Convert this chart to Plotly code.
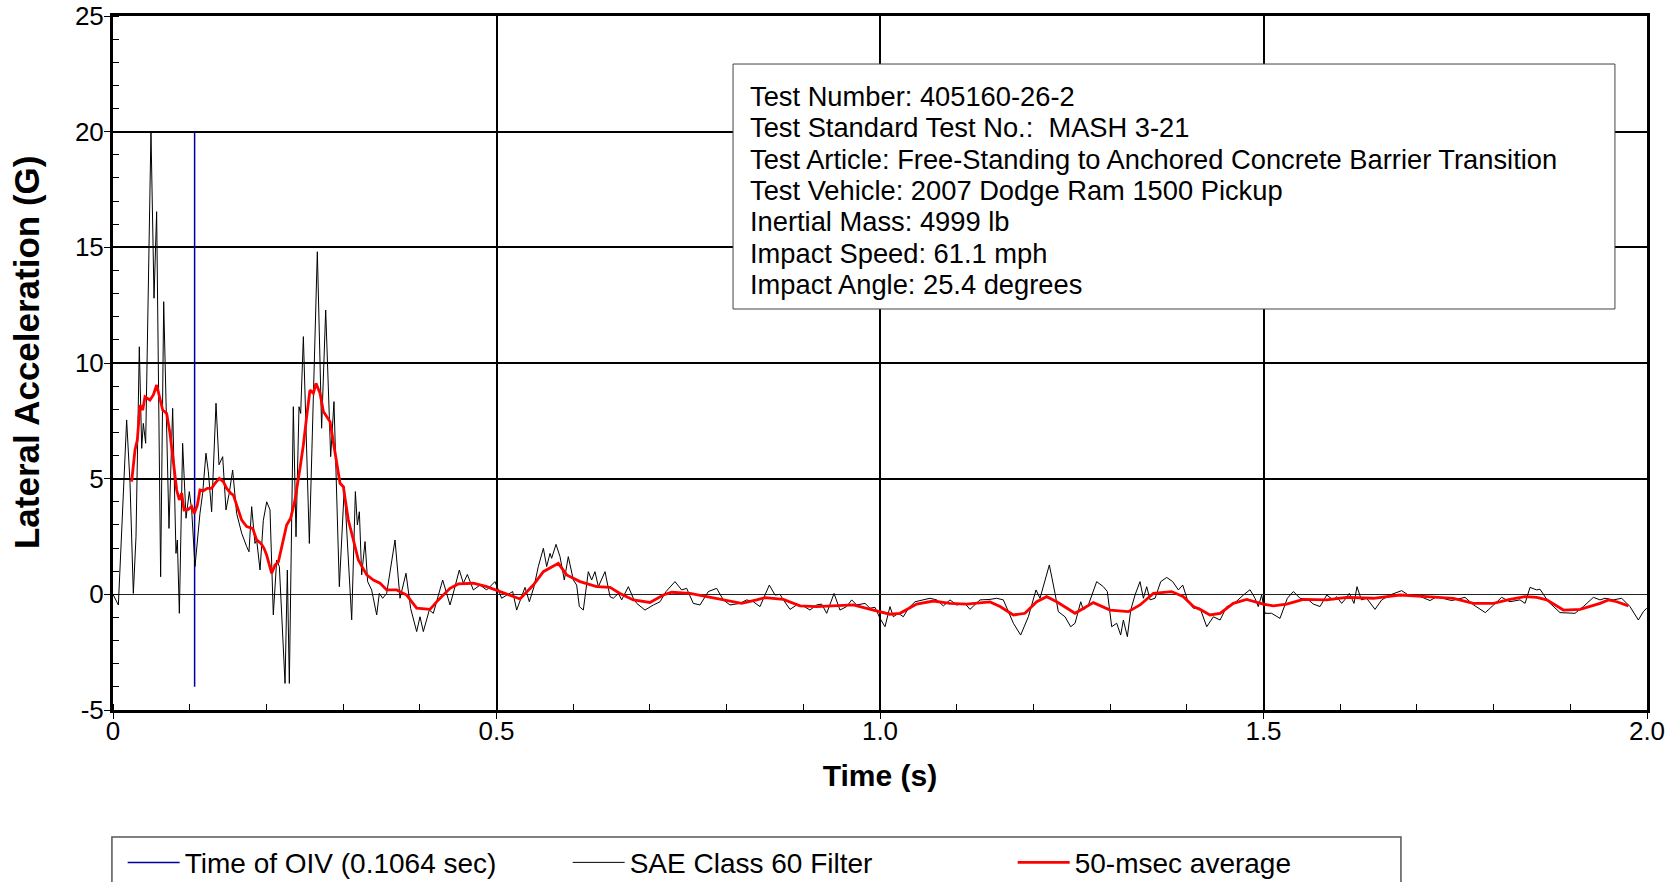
import plotly.graph_objects as go

# SAE Class 60 filtered lateral acceleration
sae_time = [
    0.000, 0.007, 0.0178, 0.0222, 0.0265, 0.0300, 0.0343, 0.0374, 0.0395, 0.0426,
    0.0495, 0.0535, 0.0569, 0.0621, 0.0661, 0.0730, 0.0778, 0.0821, 0.0839, 0.0865,
    0.0908, 0.0952, 0.0995, 0.1026, 0.1069, 0.1134, 0.1169, 0.1212, 0.1243, 0.1286,
    0.1343, 0.1382, 0.1430, 0.1473, 0.1517, 0.1560, 0.1612, 0.1678, 0.1743, 0.1773,
    0.1808, 0.1851, 0.1873, 0.1917, 0.1960, 0.2004, 0.2047, 0.2090, 0.2134, 0.2169,
    0.2243, 0.2273, 0.2299, 0.2351, 0.2386, 0.2425, 0.2447, 0.2482, 0.2560, 0.2664,
    0.2720, 0.2773, 0.2838, 0.2881, 0.2951, 0.3016, 0.3112, 0.3160, 0.3186, 0.3212,
    0.3242, 0.3286, 0.3320, 0.3372, 0.3438, 0.3472, 0.3516, 0.3568, 0.3677, 0.3742,
    0.3820, 0.3881, 0.3959, 0.4003, 0.4046, 0.4124, 0.4176, 0.4298, 0.4350, 0.4394,
    0.4459, 0.4515, 0.4568, 0.4620, 0.4698, 0.4785, 0.4872, 0.4980, 0.5067, 0.5133,
    0.5211, 0.5263, 0.5372, 0.5428, 0.5489, 0.5545, 0.5611, 0.5654, 0.5698, 0.5719,
    0.5776, 0.5828, 0.5884, 0.5936, 0.6002, 0.6045, 0.6080, 0.6132, 0.6197, 0.6241,
    0.6284, 0.6328, 0.6415, 0.6480, 0.6523, 0.6589, 0.6632, 0.6719, 0.6784, 0.6828,
    0.6936, 0.7045, 0.7132, 0.7210, 0.7327, 0.7414, 0.7479, 0.7566, 0.7653, 0.7762,
    0.7870, 0.7957, 0.8044, 0.8175, 0.8262, 0.8348, 0.8435, 0.8557, 0.8631, 0.8696,
    0.8740, 0.8827, 0.8913, 0.9000, 0.9087, 0.9174, 0.9239, 0.9305, 0.9401, 0.9478,
    0.9565, 0.9631, 0.9696, 0.9805, 0.9870, 0.9935, 1.0000, 1.0065, 1.0130, 1.0174,
    1.0239, 1.0304, 1.0370, 1.0457, 1.0565, 1.0652, 1.0739, 1.0826, 1.0913, 1.1000,
    1.1108, 1.1173, 1.1304, 1.1434, 1.1521, 1.1608, 1.1739, 1.1834, 1.1934, 1.2034,
    1.2086, 1.2208, 1.2282, 1.2325, 1.2412, 1.2486, 1.2543, 1.2617, 1.2652, 1.2717,
    1.2825, 1.2912, 1.2964, 1.3021, 1.3086, 1.3138, 1.3173, 1.3225, 1.3269, 1.3325,
    1.3390, 1.3434, 1.3477, 1.3521, 1.3586, 1.3660, 1.3738, 1.3816, 1.3890, 1.3947,
    1.4008, 1.4086, 1.4173, 1.4260, 1.4347, 1.4434, 1.4521, 1.4608, 1.4738, 1.4824,
    1.4889, 1.4932, 1.4976, 1.5020, 1.5106, 1.5215, 1.5311, 1.5390, 1.5476, 1.5585,
    1.5650, 1.5737, 1.5824, 1.5911, 1.5954, 1.6019, 1.6076, 1.6119, 1.6180, 1.6219,
    1.6276, 1.6345, 1.6454, 1.6541, 1.6649, 1.6801, 1.6888, 1.6997, 1.7171, 1.7258,
    1.7453, 1.7627, 1.7740, 1.7892, 1.8000, 1.8105, 1.8214, 1.8344, 1.8410, 1.8475,
    1.8562, 1.8605, 1.8714, 1.8866, 1.9062, 1.9170, 1.9301, 1.9387, 1.9453, 1.9561,
    1.9670, 1.9778, 1.9887, 1.9952, 1.9996,
]
sae_accel = [
    0.00, -0.46, 7.54, 4.80, 0.04, 2.49, 10.70, 6.31, 7.39, 6.53,
    20.00, 12.80, 16.54, 0.76, 12.65, 2.85, 8.04, 1.77, 2.35, -0.82,
    6.53, 3.29, 4.44, 3.64, 1.20, 3.50, 4.37, 6.10, 5.30, 3.57,
    8.26, 5.60, 5.95, 3.65, 4.40, 5.37, 3.50, 2.64, 2.06, 1.84,
    3.79, 2.20, 2.35, 1.05, 3.20, 4.00, 3.65, -0.89, 1.48, 1.20,
    -3.85, 1.05, -3.85, 8.11, 2.49, 8.11, 7.82, 11.14, 2.20, 14.81,
    7.18, 12.29, 5.95, 8.33, 0.33, 4.65, -1.10, 4.44, 3.00, 3.57,
    0.84, 2.28, 0.55, 0.19, -0.89, 0.04, -0.17, 0.04, 2.35, -0.17,
    0.91, -0.61, -1.61, -0.97, -1.61, -0.68, -0.82, 0.62, 0.04, -0.46,
    0.33, 1.05, 0.48, 0.86, 0.19, 0.40, 0.19, 0.55, -0.17, -0.03,
    0.12, -0.68, 0.30, -0.32, 0.33, 1.20, 1.99, 1.20, 1.77, 1.56,
    2.16, 1.63, 0.62, 1.63, 0.62, 0.40, -0.53, -0.68, 0.98, 0.62,
    0.98, 0.33, 0.98, -0.10, -0.17, 0.04, -0.24, 0.33, -0.17, -0.39,
    -0.68, -0.46, -0.32, 0.12, 0.55, 0.19, 0.26, -0.39, -0.46, 0.12,
    0.26, -0.24, -0.46, -0.39, -0.24, -0.32, -0.53, 0.40, -0.03, 0.00,
    -0.24, -0.65, -0.46, -0.50, -0.68, -0.46, -0.42, -0.82, 0.04, -0.68,
    -0.53, -0.24, -0.46, -0.39, -0.60, -0.56, -1.04, -1.40, -0.53, -0.97,
    -0.82, -0.97, -0.60, -0.32, -0.24, -0.17, -0.24, -0.50, -0.24, -0.46,
    -0.39, -0.65, -0.24, -0.22, -0.17, -0.24, -1.25, -1.76, -0.97, 0.19,
    -0.17, 1.27, 0.04, -0.75, -0.97, -1.40, -1.25, -0.32, -0.68, -0.46,
    0.55, 0.33, 0.12, -1.40, -1.25, -1.76, -1.11, -1.83, -0.68, -0.03,
    0.55, -0.17, 0.33, -0.24, -0.17, 0.55, 0.73, 0.55, 0.19, 0.40,
    -0.24, -0.60, -0.60, -1.40, -0.97, -1.11, -0.53, -0.42, -0.03, 0.20,
    -0.17, -0.53, -0.03, -0.82, -0.82, -1.04, -0.17, 0.12, -0.17, -0.24,
    -0.42, -0.53, -0.03, -0.24, -0.10, -0.39, -0.17, 0.04, -0.39, 0.33,
    -0.24, -0.17, -0.65, -0.24, -0.03, 0.16, -0.03, -0.03, -0.27, -0.10,
    -0.27, -0.13, -0.46, -0.79, -0.46, -0.13, -0.32, -0.24, -0.39, 0.30,
    0.19, 0.22, -0.32, -0.79, -0.82, -0.53, -0.13, -0.24, -0.17, -0.24,
    -0.17, -0.53, -1.11, -0.75, -0.60,
]

# 50-msec moving average
avg_time = [
    0.0243, 0.0287, 0.0317, 0.0352, 0.0387, 0.0417, 0.0482, 0.0526, 0.0569, 0.0613,
    0.0648, 0.0700, 0.0743, 0.0787, 0.0830, 0.0865, 0.0895, 0.0926, 0.0982, 0.1026,
    0.1060, 0.1100, 0.1134, 0.1178, 0.1230, 0.1286, 0.1330, 0.1386, 0.1438, 0.1482,
    0.1534, 0.1569, 0.1621, 0.1678, 0.1743, 0.1821, 0.1873, 0.1930, 0.1969, 0.2003,
    0.2069, 0.2112, 0.2156, 0.2199, 0.2264, 0.2316, 0.2373, 0.2438, 0.2482, 0.2525,
    0.2568, 0.2612, 0.2647, 0.2699, 0.2743, 0.2830, 0.2895, 0.2960, 0.3003, 0.3068,
    0.3134, 0.3199, 0.3308, 0.3395, 0.3482, 0.3569, 0.3698, 0.3829, 0.3959, 0.4133,
    0.4242, 0.4394, 0.4502, 0.4698, 0.4872, 0.5046, 0.5219, 0.5306, 0.5480, 0.5611,
    0.5806, 0.5915, 0.6089, 0.6306, 0.6480, 0.6610, 0.6784, 0.7001, 0.7175, 0.7284,
    0.7523, 0.7697, 0.7870, 0.8001, 0.8196, 0.8392, 0.8500, 0.8740, 0.8957, 0.9174,
    0.9478, 0.9652, 0.9913, 1.0130, 1.0260, 1.0478, 1.0696, 1.0913, 1.1130, 1.1434,
    1.1565, 1.1739, 1.1890, 1.2043, 1.2173, 1.2304, 1.2543, 1.2652, 1.2782, 1.3000,
    1.3238, 1.3390, 1.3564, 1.3803, 1.3955, 1.4086, 1.4172, 1.4302, 1.4434, 1.4606,
    1.4780, 1.4998, 1.5128, 1.5302, 1.5519, 1.5824, 1.6085, 1.6432, 1.6780, 1.7128,
    1.7476, 1.7735, 1.7997, 1.8214, 1.8409, 1.8562, 1.8693, 1.8910, 1.9128, 1.9388,
    1.9497, 1.9606, 1.9758,
]
avg_accel = [
    4.87, 6.24, 6.67, 8.18, 7.97, 8.54, 8.40, 8.62, 9.05, 8.47,
    7.97, 7.82, 6.96, 5.73, 4.51, 4.08, 4.37, 3.65, 3.67, 3.79,
    3.50, 3.86, 4.51, 4.48, 4.58, 4.58, 4.80, 5.01, 4.87, 4.58,
    4.37, 4.29, 3.79, 3.21, 2.93, 2.85, 2.35, 2.20, 1.99, 1.70,
    0.91, 1.27, 1.41, 1.99, 3.00, 3.29, 4.08, 5.45, 6.46, 7.68,
    8.83, 8.69, 9.12, 8.69, 7.90, 7.46, 6.10, 4.80, 4.65, 3.21,
    2.35, 1.48, 0.84, 0.62, 0.48, 0.19, 0.19, -0.03, -0.60, -0.65,
    -0.24, 0.26, 0.45, 0.48, 0.33, 0.12, -0.10, -0.20, 0.40, 0.98,
    1.34, 0.84, 0.55, 0.33, 0.30, 0.04, -0.24, -0.35, -0.03, 0.09,
    0.04, -0.07, -0.17, -0.24, -0.39, -0.24, -0.14, -0.22, -0.50, -0.53,
    -0.50, -0.46, -0.68, -0.86, -0.82, -0.42, -0.29, -0.39, -0.42, -0.33,
    -0.53, -0.89, -0.82, -0.32, -0.10, -0.32, -0.82, -0.60, -0.36, -0.68,
    -0.75, -0.46, 0.04, 0.12, -0.10, -0.53, -0.65, -0.89, -0.82, -0.39,
    -0.22, -0.42, -0.50, -0.42, -0.22, -0.24, -0.13, -0.17, -0.03, -0.10,
    -0.17, -0.39, -0.39, -0.22, -0.10, -0.13, -0.24, -0.68, -0.65, -0.39,
    -0.24, -0.32, -0.50,
]

# time of occupant impact velocity marker
oiv_time = [0.1064, 0.1064]
oiv_accel = [-4, 20]

x_tickvals = [0, 0.5, 1.0, 1.5, 2.0]
x_ticktext = ["0", "0.5", "1.0", "1.5", "2.0"]
y_tickvals = [-5, 0, 5, 10, 15, 20, 25]
y_ticktext = ["-5", "0", "5", "10", "15", "20", "25"]

info_lines = [
    "Test Number: 405160-26-2",
    "Test Standard Test No.:  MASH 3-21",
    "Test Article: Free-Standing to Anchored Concrete Barrier Transition",
    "Test Vehicle: 2007 Dodge Ram 1500 Pickup",
    "Inertial Mass: 4999 lb",
    "Impact Speed: 61.1 mph",
    "Impact Angle: 25.4 degrees",
]

FONT = "Liberation Sans, Arial, sans-serif"

fig = go.Figure()

fig.add_trace(go.Scatter(
    x=oiv_time, y=oiv_accel, mode="lines",
    name="Time of OIV (0.1064 sec)",
    line=dict(color="#0000A0", width=1.5),
))
fig.add_trace(go.Scatter(
    x=sae_time, y=sae_accel, mode="lines",
    name="SAE Class 60 Filter",
    line=dict(color="black", width=1),
))
fig.add_trace(go.Scatter(
    x=avg_time, y=avg_accel, mode="lines",
    name="50-msec average",
    line=dict(color="#FF0000", width=2.8),
))

# info box, one annotation per line so the spacing can be set
fig.add_shape(
    type="rect", xref="paper", yref="paper",
    x0=0.4042, x1=0.9791, y0=0.5778, y1=0.9308,
    line=dict(color="#444444", width=1), fillcolor="white", layer="above",
)
for i, line in enumerate(info_lines):
    fig.add_annotation(
        xref="paper", yref="paper", x=0.4140, y=0.8841 - i * 0.04523,
        xanchor="left", yanchor="middle", align="left", showarrow=False,
        text=line, font=dict(family=FONT, size=27.3, color="black"),
    )

# y title as an annotation (it sits a little above the plot centre)
fig.add_annotation(
    xref="paper", yref="paper", x=-0.0560, y=0.5159,
    xanchor="center", yanchor="middle", textangle=-90, showarrow=False,
    text="<b>Lateral Acceleration (G)</b>",
    font=dict(family=FONT, size=35, color="black"),
)

# legend frame (runs off the bottom of the page)
fig.add_shape(
    type="rect", xref="paper", yref="paper",
    x0=-0.0007, x1=0.8396, y0=-0.40, y1=-0.183,
    line=dict(color="#555555", width=1.5), fillcolor="rgba(0,0,0,0)",
)

fig.update_xaxes(
    range=[0, 2.0],
    tickvals=x_tickvals, ticktext=x_ticktext,
    ticks="outside", ticklen=6, tickcolor="black",
    ticklabelstandoff=-10, ticklabeloverflow="allow",
    minor=dict(dtick=0.1, ticks="inside", ticklen=6, tickcolor="black", showgrid=False),
    showgrid=True, gridcolor="black", gridwidth=1.5,
    zeroline=False,
    showline=True, linecolor="black", linewidth=3, mirror=True,
    tickfont=dict(family=FONT, size=26, color="black"),
    title=dict(text="<b>Time (s)</b>", standoff=20,
               font=dict(family=FONT, size=30, color="black")),
)
fig.update_yaxes(
    range=[-5, 25],
    tickvals=y_tickvals, ticktext=y_ticktext,
    ticks="outside", ticklen=6, tickcolor="black",
    ticklabelstandoff=-5, ticklabeloverflow="allow",
    minor=dict(dtick=1, ticks="inside", ticklen=6, tickcolor="black", showgrid=False),
    showgrid=True, gridcolor="black", gridwidth=1.5,
    zeroline=True, zerolinecolor="#222222", zerolinewidth=1,
    showline=True, linecolor="black", linewidth=3, mirror=True,
    tickfont=dict(family=FONT, size=26, color="black"),
)

fig.update_layout(
    width=1679, height=882,
    margin=dict(l=113, r=32, t=16, b=172, autoexpand=False),
    plot_bgcolor="white", paper_bgcolor="white",
    font=dict(family=FONT, color="black"),
    showlegend=True,
    legend=dict(
        orientation="h", x=0.0063, xanchor="left", y=-0.22, yanchor="middle",
        itemwidth=52, entrywidth=378, entrywidthmode="pixels",
        font=dict(family=FONT, size=28, color="black"),
        bgcolor="rgba(0,0,0,0)", borderwidth=0,
    ),
)

# drop the page's default body margin so the figure sits at the top-left corner
fig.write_html(
    "out.html",
    config={"displayModeBar": False},
    post_script="document.body.style.margin = '0px';",
)
